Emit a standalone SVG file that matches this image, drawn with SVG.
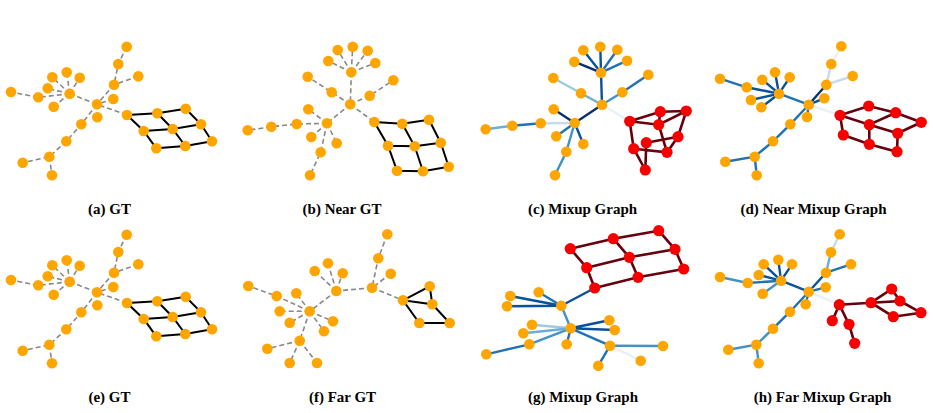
<svg xmlns="http://www.w3.org/2000/svg" width="933" height="413" viewBox="0 0 933 413">
<style>
.o{fill:#ffa500}
.r{fill:#f90000}
.d{stroke:#888;stroke-width:1.6;stroke-dasharray:5 3;fill:none}
.k{stroke:#000;stroke-width:2;fill:none}
.m{stroke:#67000d;stroke-width:2.6;fill:none}
.b{stroke-width:2.4;fill:none}
.b0{stroke:#08306b}.b1{stroke:#08519c}.b2{stroke:#2171b5}.b3{stroke:#4292c6}.b4{stroke:#6baed6}.b5{stroke:#9ecae1}.b6{stroke:#c6dbef}.b7{stroke:#e8f1fa}
text{font-family:"Liberation Serif","DejaVu Serif",serif;font-weight:bold;font-size:15px;fill:#000;text-anchor:middle}
</style>
<rect width="933" height="413" fill="#fff"/>

<g id="panel-a">
<g id="a-edges">
<path class="d" d="M126.7,46.7L118.3,64L114,84.7L97,104.3M138.3,76.3L114,84.7M113.3,99L97,104.3M97.3,117.3L97,104.3M69.7,93.7L97,104.3L127,115M97,104.3L81.3,124.3L66.3,141.3L49.3,156.7L22.7,162.7M49.3,156.7L52,175.3M69.7,93.7L66.7,72.3M69.7,93.7L52.3,77.3M69.7,93.7L79.7,77.7M69.7,93.7L47.7,88.3M69.7,93.7L53.7,106.7M69.7,93.7L38.3,97.3L11,92"/>
<path class="k" d="M127,115L157.3,113.3L185.7,108.7M143.7,131L172.7,129L201,124.3M156.3,148.3L185.3,146L212,141.3M127,115L143.7,131L156.3,148.3M157.3,113.3L172.7,129L185.3,146M185.7,108.7L201,124.3L212,141.3"/>
</g>
<g id="a-n1"><circle class="o" cx="126.7" cy="46.7" r="5.3"/></g>
<g id="a-n2"><circle class="o" cx="118.3" cy="64" r="5.3"/></g>
<g id="a-n3"><circle class="o" cx="138.3" cy="76.3" r="5.3"/></g>
<g id="a-n4"><circle class="o" cx="114" cy="84.7" r="5.3"/></g>
<g id="a-n5"><circle class="o" cx="113.3" cy="99" r="5.3"/></g>
<g id="a-n6"><circle class="o" cx="97" cy="104.3" r="5.3"/></g>
<g id="a-n7"><circle class="o" cx="97.3" cy="117.3" r="5.3"/></g>
<g id="a-n8"><circle class="o" cx="69.7" cy="93.7" r="5.3"/></g>
<g id="a-n9"><circle class="o" cx="66.7" cy="72.3" r="5.3"/></g>
<g id="a-n10"><circle class="o" cx="52.3" cy="77.3" r="5.3"/></g>
<g id="a-n11"><circle class="o" cx="79.7" cy="77.7" r="5.3"/></g>
<g id="a-n12"><circle class="o" cx="47.7" cy="88.3" r="5.3"/></g>
<g id="a-n13"><circle class="o" cx="53.7" cy="106.7" r="5.3"/></g>
<g id="a-n14"><circle class="o" cx="38.3" cy="97.3" r="5.3"/></g>
<g id="a-n15"><circle class="o" cx="11" cy="92" r="5.3"/></g>
<g id="a-n16"><circle class="o" cx="81.3" cy="124.3" r="5.3"/></g>
<g id="a-n17"><circle class="o" cx="66.3" cy="141.3" r="5.3"/></g>
<g id="a-n18"><circle class="o" cx="49.3" cy="156.7" r="5.3"/></g>
<g id="a-n19"><circle class="o" cx="22.7" cy="162.7" r="5.3"/></g>
<g id="a-n20"><circle class="o" cx="52" cy="175.3" r="5.3"/></g>
<g id="a-g1"><circle class="o" cx="127" cy="115" r="5.3"/></g>
<g id="a-g2"><circle class="o" cx="157.3" cy="113.3" r="5.3"/></g>
<g id="a-g3"><circle class="o" cx="185.7" cy="108.7" r="5.3"/></g>
<g id="a-g4"><circle class="o" cx="143.7" cy="131" r="5.3"/></g>
<g id="a-g5"><circle class="o" cx="172.7" cy="129" r="5.3"/></g>
<g id="a-g6"><circle class="o" cx="201" cy="124.3" r="5.3"/></g>
<g id="a-g7"><circle class="o" cx="156.3" cy="148.3" r="5.3"/></g>
<g id="a-g8"><circle class="o" cx="185.3" cy="146" r="5.3"/></g>
<g id="a-g9"><circle class="o" cx="212" cy="141.3" r="5.3"/></g>
</g>

<g id="panel-e" transform="translate(0,188)">
<g id="e-edges">
<path class="d" d="M126.7,46.7L118.3,64L114,84.7L97,104.3M138.3,76.3L114,84.7M113.3,99L97,104.3M97.3,117.3L97,104.3M69.7,93.7L97,104.3L127,115M97,104.3L81.3,124.3L66.3,141.3L49.3,156.7L22.7,162.7M49.3,156.7L52,175.3M69.7,93.7L66.7,72.3M69.7,93.7L52.3,77.3M69.7,93.7L79.7,77.7M69.7,93.7L47.7,88.3M69.7,93.7L53.7,106.7M69.7,93.7L38.3,97.3L11,92"/>
<path class="k" d="M127,115L157.3,113.3L185.7,108.7M143.7,131L172.7,129L201,124.3M156.3,148.3L185.3,146L212,141.3M127,115L143.7,131L156.3,148.3M157.3,113.3L172.7,129L185.3,146M185.7,108.7L201,124.3L212,141.3"/>
</g>
<g id="e-n1"><circle class="o" cx="126.7" cy="46.7" r="5.3"/></g>
<g id="e-n2"><circle class="o" cx="118.3" cy="64" r="5.3"/></g>
<g id="e-n3"><circle class="o" cx="138.3" cy="76.3" r="5.3"/></g>
<g id="e-n4"><circle class="o" cx="114" cy="84.7" r="5.3"/></g>
<g id="e-n5"><circle class="o" cx="113.3" cy="99" r="5.3"/></g>
<g id="e-n6"><circle class="o" cx="97" cy="104.3" r="5.3"/></g>
<g id="e-n7"><circle class="o" cx="97.3" cy="117.3" r="5.3"/></g>
<g id="e-n8"><circle class="o" cx="69.7" cy="93.7" r="5.3"/></g>
<g id="e-n9"><circle class="o" cx="66.7" cy="72.3" r="5.3"/></g>
<g id="e-n10"><circle class="o" cx="52.3" cy="77.3" r="5.3"/></g>
<g id="e-n11"><circle class="o" cx="79.7" cy="77.7" r="5.3"/></g>
<g id="e-n12"><circle class="o" cx="47.7" cy="88.3" r="5.3"/></g>
<g id="e-n13"><circle class="o" cx="53.7" cy="106.7" r="5.3"/></g>
<g id="e-n14"><circle class="o" cx="38.3" cy="97.3" r="5.3"/></g>
<g id="e-n15"><circle class="o" cx="11" cy="92" r="5.3"/></g>
<g id="e-n16"><circle class="o" cx="81.3" cy="124.3" r="5.3"/></g>
<g id="e-n17"><circle class="o" cx="66.3" cy="141.3" r="5.3"/></g>
<g id="e-n18"><circle class="o" cx="49.3" cy="156.7" r="5.3"/></g>
<g id="e-n19"><circle class="o" cx="22.7" cy="162.7" r="5.3"/></g>
<g id="e-n20"><circle class="o" cx="52" cy="175.3" r="5.3"/></g>
<g id="e-g1"><circle class="o" cx="127" cy="115" r="5.3"/></g>
<g id="e-g2"><circle class="o" cx="157.3" cy="113.3" r="5.3"/></g>
<g id="e-g3"><circle class="o" cx="185.7" cy="108.7" r="5.3"/></g>
<g id="e-g4"><circle class="o" cx="143.7" cy="131" r="5.3"/></g>
<g id="e-g5"><circle class="o" cx="172.7" cy="129" r="5.3"/></g>
<g id="e-g6"><circle class="o" cx="201" cy="124.3" r="5.3"/></g>
<g id="e-g7"><circle class="o" cx="156.3" cy="148.3" r="5.3"/></g>
<g id="e-g8"><circle class="o" cx="185.3" cy="146" r="5.3"/></g>
<g id="e-g9"><circle class="o" cx="212" cy="141.3" r="5.3"/></g>
</g>

<g id="panel-b">
<g id="b-edges">
<path class="d" d="M351.3,72.3L352.7,46.7M351.3,72.3L337.7,50M351.3,72.3L367.7,50.7M351.3,72.3L328.3,61M351.3,72.3L375.3,63M351.3,72.3L350.3,104.3L331.7,92.3L307.7,76.7M350.3,104.3L369.7,95.7L393.3,80.3M350.3,104.3L327,123.3M350.3,104.3L374.3,122M327,123.3L308.3,109.3M327,123.3L311.3,137M327,123.3L336.7,143.3M327,123.3L320.7,152.3L310,175.3M327,123.3L296.7,124L271.3,126.7L247.7,130.3"/>
<path class="k" d="M374.3,122L402.3,123.7L429,119.7M388,145.7L414.7,146.3L440.7,142.7M397,170.7L423,171.3L448.7,166.7M374.3,122L388,145.7L397,170.7M402.3,123.7L414.7,146.3L423,171.3M429,119.7L440.7,142.7L448.7,166.7"/>
</g>
<g id="b-n1"><circle class="o" cx="351.3" cy="72.3" r="5.3"/></g>
<g id="b-n2"><circle class="o" cx="352.7" cy="46.7" r="5.3"/></g>
<g id="b-n3"><circle class="o" cx="337.7" cy="50" r="5.3"/></g>
<g id="b-n4"><circle class="o" cx="367.7" cy="50.7" r="5.3"/></g>
<g id="b-n5"><circle class="o" cx="328.3" cy="61" r="5.3"/></g>
<g id="b-n6"><circle class="o" cx="375.3" cy="63" r="5.3"/></g>
<g id="b-n7"><circle class="o" cx="350.3" cy="104.3" r="5.3"/></g>
<g id="b-n8"><circle class="o" cx="331.7" cy="92.3" r="5.3"/></g>
<g id="b-n9"><circle class="o" cx="307.7" cy="76.7" r="5.3"/></g>
<g id="b-n10"><circle class="o" cx="369.7" cy="95.7" r="5.3"/></g>
<g id="b-n11"><circle class="o" cx="393.3" cy="80.3" r="5.3"/></g>
<g id="b-n12"><circle class="o" cx="327" cy="123.3" r="5.3"/></g>
<g id="b-n13"><circle class="o" cx="308.3" cy="109.3" r="5.3"/></g>
<g id="b-n14"><circle class="o" cx="311.3" cy="137" r="5.3"/></g>
<g id="b-n15"><circle class="o" cx="336.7" cy="143.3" r="5.3"/></g>
<g id="b-n16"><circle class="o" cx="320.7" cy="152.3" r="5.3"/></g>
<g id="b-n17"><circle class="o" cx="310" cy="175.3" r="5.3"/></g>
<g id="b-n18"><circle class="o" cx="296.7" cy="124" r="5.3"/></g>
<g id="b-n19"><circle class="o" cx="271.3" cy="126.7" r="5.3"/></g>
<g id="b-n20"><circle class="o" cx="247.7" cy="130.3" r="5.3"/></g>
<g id="b-g1"><circle class="o" cx="374.3" cy="122" r="5.3"/></g>
<g id="b-g2"><circle class="o" cx="402.3" cy="123.7" r="5.3"/></g>
<g id="b-g3"><circle class="o" cx="429" cy="119.7" r="5.3"/></g>
<g id="b-g4"><circle class="o" cx="388" cy="145.7" r="5.3"/></g>
<g id="b-g5"><circle class="o" cx="414.7" cy="146.3" r="5.3"/></g>
<g id="b-g6"><circle class="o" cx="440.7" cy="142.7" r="5.3"/></g>
<g id="b-g7"><circle class="o" cx="397" cy="170.7" r="5.3"/></g>
<g id="b-g8"><circle class="o" cx="423" cy="171.3" r="5.3"/></g>
<g id="b-g9"><circle class="o" cx="448.7" cy="166.7" r="5.3"/></g>
</g>

<g id="panel-c">
<g id="c-edges">
<path class="b b7" d="M602,104.7L629.7,121.3"/>
<path class="b b1" d="M601,72.7L600.3,46.7M601,72.7L583.3,50.3M601,72.7L602,104.7"/>
<path class="b b0" d="M601,72.7L574.3,61.7M602,104.7L574.7,123M574.7,123L553.7,109.3"/>
<path class="b b2" d="M601,72.7L617.3,49.7M601,72.7L627,60.7M622.3,92.3L648.3,74.7M574.7,123L556.3,136.3M540.7,123.3L512.3,125.7"/>
<path class="b b4" d="M602,104.7L581,93.3M512.3,125.7L485.7,129.3"/>
<path class="b b5" d="M581,93.3L553.3,78"/>
<path class="b b3" d="M602,104.7L622.3,92.3M574.7,123L566.3,151.7L555,175.3"/>
<path class="b b1" d="M574.7,123L583.3,144"/>
<path class="b b6" d="M574.7,123L540.7,123.3"/>
<path class="m" d="M629.7,121.3L660.3,111.7L686.3,111M629.7,121.3L658.7,124.7L686.3,111M686.3,111L678,136.7M658.7,124.7L667,152.3M646.3,142.7L678,136.7M629.7,121.3L633.7,148.7L645.3,170M646.3,142.7L645.3,170M633.7,148.7L667,152.3L678,136.7M660.3,111.7L658.7,124.7"/>
</g>
<g id="c-n1"><circle class="o" cx="601" cy="72.7" r="5.3"/></g>
<g id="c-n2"><circle class="o" cx="600.3" cy="46.7" r="5.3"/></g>
<g id="c-n3"><circle class="o" cx="583.3" cy="50.3" r="5.3"/></g>
<g id="c-n4"><circle class="o" cx="617.3" cy="49.7" r="5.3"/></g>
<g id="c-n5"><circle class="o" cx="574.3" cy="61.7" r="5.3"/></g>
<g id="c-n6"><circle class="o" cx="627" cy="60.7" r="5.3"/></g>
<g id="c-n7"><circle class="o" cx="602" cy="104.7" r="5.3"/></g>
<g id="c-n8"><circle class="o" cx="581" cy="93.3" r="5.3"/></g>
<g id="c-n9"><circle class="o" cx="553.3" cy="78" r="5.3"/></g>
<g id="c-n10"><circle class="o" cx="622.3" cy="92.3" r="5.3"/></g>
<g id="c-n11"><circle class="o" cx="648.3" cy="74.7" r="5.3"/></g>
<g id="c-n12"><circle class="o" cx="574.7" cy="123" r="5.3"/></g>
<g id="c-n13"><circle class="o" cx="553.7" cy="109.3" r="5.3"/></g>
<g id="c-n14"><circle class="o" cx="556.3" cy="136.3" r="5.3"/></g>
<g id="c-n15"><circle class="o" cx="583.3" cy="144" r="5.3"/></g>
<g id="c-n16"><circle class="o" cx="566.3" cy="151.7" r="5.3"/></g>
<g id="c-n17"><circle class="o" cx="555" cy="175.3" r="5.3"/></g>
<g id="c-n18"><circle class="o" cx="540.7" cy="123.3" r="5.3"/></g>
<g id="c-n19"><circle class="o" cx="512.3" cy="125.7" r="5.3"/></g>
<g id="c-n20"><circle class="o" cx="485.7" cy="129.3" r="5.3"/></g>
<g id="c-r1"><circle class="r" cx="629.7" cy="121.3" r="5.6"/></g>
<g id="c-r2"><circle class="r" cx="660.3" cy="111.7" r="5.6"/></g>
<g id="c-r3"><circle class="r" cx="686.3" cy="111" r="5.6"/></g>
<g id="c-r4"><circle class="r" cx="658.7" cy="124.7" r="5.6"/></g>
<g id="c-r5"><circle class="r" cx="678" cy="136.7" r="5.6"/></g>
<g id="c-r6"><circle class="r" cx="646.3" cy="142.7" r="5.6"/></g>
<g id="c-r7"><circle class="r" cx="633.7" cy="148.7" r="5.6"/></g>
<g id="c-r8"><circle class="r" cx="667" cy="152.3" r="5.6"/></g>
<g id="c-r9"><circle class="r" cx="645.3" cy="170" r="5.6"/></g>
</g>

<g id="panel-d">
<g id="d-edges">
<path class="b b7" d="M808.7,104.7L840,115.3M841.3,46.3L831.3,64"/>
<path class="b b6" d="M831.3,64L826.3,84.7M852.7,76L826.3,84.7"/>
<path class="b b0" d="M826.3,84.7L808.7,104.7"/>
<path class="b b1" d="M824.3,98.3L808.7,104.7M779,93.7L775,72.3M779,93.7L762.3,79.7M779,93.7L789.7,77.3M779,93.7L751,100M779,93.7L761.3,107.3M779,93.7L746.7,87.3"/>
<path class="b b2" d="M808.7,104.7L807,117M808.7,104.7L790.3,124.3L773,141.3L754.7,156.7L725.3,161.7M754.7,156.7L756.7,175.3M779,93.7L808.7,104.7M746.7,87.3L720,78.7"/>
<path class="m" d="M840,115.3L868.7,106L895.7,112.7L921.3,122.3M840,115.3L869.3,124.7L895.7,112.7M869.3,124.7L897.7,133.3L921.3,122.3M840,115.3L843.3,135L869.3,144.3L897,151.7L897.7,133.3M869.3,124.7L869.3,144.3"/>
</g>
<g id="d-n1"><circle class="o" cx="841.3" cy="46.3" r="5.3"/></g>
<g id="d-n2"><circle class="o" cx="831.3" cy="64" r="5.3"/></g>
<g id="d-n3"><circle class="o" cx="852.7" cy="76" r="5.3"/></g>
<g id="d-n4"><circle class="o" cx="826.3" cy="84.7" r="5.3"/></g>
<g id="d-n5"><circle class="o" cx="824.3" cy="98.3" r="5.3"/></g>
<g id="d-n6"><circle class="o" cx="808.7" cy="104.7" r="5.3"/></g>
<g id="d-n7"><circle class="o" cx="807" cy="117" r="5.3"/></g>
<g id="d-n8"><circle class="o" cx="779" cy="93.7" r="5.3"/></g>
<g id="d-n9"><circle class="o" cx="775" cy="72.3" r="5.3"/></g>
<g id="d-n10"><circle class="o" cx="762.3" cy="79.7" r="5.3"/></g>
<g id="d-n11"><circle class="o" cx="789.7" cy="77.3" r="5.3"/></g>
<g id="d-n12"><circle class="o" cx="751" cy="100" r="5.3"/></g>
<g id="d-n13"><circle class="o" cx="761.3" cy="107.3" r="5.3"/></g>
<g id="d-n14"><circle class="o" cx="746.7" cy="87.3" r="5.3"/></g>
<g id="d-n15"><circle class="o" cx="720" cy="78.7" r="5.3"/></g>
<g id="d-n16"><circle class="o" cx="790.3" cy="124.3" r="5.3"/></g>
<g id="d-n17"><circle class="o" cx="773" cy="141.3" r="5.3"/></g>
<g id="d-n18"><circle class="o" cx="754.7" cy="156.7" r="5.3"/></g>
<g id="d-n19"><circle class="o" cx="725.3" cy="161.7" r="5.3"/></g>
<g id="d-n20"><circle class="o" cx="756.7" cy="175.3" r="5.3"/></g>
<g id="d-r1"><circle class="r" cx="840" cy="115.3" r="5.6"/></g>
<g id="d-r2"><circle class="r" cx="868.7" cy="106" r="5.6"/></g>
<g id="d-r3"><circle class="r" cx="895.7" cy="112.7" r="5.6"/></g>
<g id="d-r4"><circle class="r" cx="921.3" cy="122.3" r="5.6"/></g>
<g id="d-r5"><circle class="r" cx="869.3" cy="124.7" r="5.6"/></g>
<g id="d-r6"><circle class="r" cx="897.7" cy="133.3" r="5.6"/></g>
<g id="d-r7"><circle class="r" cx="843.3" cy="135" r="5.6"/></g>
<g id="d-r8"><circle class="r" cx="869.3" cy="144.3" r="5.6"/></g>
<g id="d-r9"><circle class="r" cx="897" cy="151.7" r="5.6"/></g>
</g>

<g id="panel-f">
<g id="f-edges">
<path class="d" d="M387.3,234.3L378.3,258.3L372,287.7M390.7,273.7L372,287.7M372,287.7L403,300.3M372,287.7L336.3,291M336.3,291L328,263.3M336.3,291L314.7,271M336.3,291L342.7,273.3M336.3,291L309.7,311.3M309.7,311.3L276.7,296L248.3,286M309.7,311.3L296.3,293.3M309.7,311.3L279.7,311.3M309.7,311.3L289.7,322.7M309.7,311.3L333,321.3M309.7,311.3L324,331.3M309.7,311.3L299.7,340.7M299.7,340.7L267.3,348.7M299.7,340.7L289.7,363M299.7,340.7L317,363"/>
<path class="k" d="M403,300.3L429.7,286.3L432.3,304.3L403,300.3L419.3,323L449.7,323L432.3,304.3"/>
</g>
<g id="f-n1"><circle class="o" cx="387.3" cy="234.3" r="5.3"/></g>
<g id="f-n2"><circle class="o" cx="378.3" cy="258.3" r="5.3"/></g>
<g id="f-n3"><circle class="o" cx="390.7" cy="273.7" r="5.3"/></g>
<g id="f-n4"><circle class="o" cx="372" cy="287.7" r="5.3"/></g>
<g id="f-n5"><circle class="o" cx="336.3" cy="291" r="5.3"/></g>
<g id="f-n6"><circle class="o" cx="328" cy="263.3" r="5.3"/></g>
<g id="f-n7"><circle class="o" cx="314.7" cy="271" r="5.3"/></g>
<g id="f-n8"><circle class="o" cx="342.7" cy="273.3" r="5.3"/></g>
<g id="f-n9"><circle class="o" cx="309.7" cy="311.3" r="5.3"/></g>
<g id="f-n10"><circle class="o" cx="276.7" cy="296" r="5.3"/></g>
<g id="f-n11"><circle class="o" cx="248.3" cy="286" r="5.3"/></g>
<g id="f-n12"><circle class="o" cx="296.3" cy="293.3" r="5.3"/></g>
<g id="f-n13"><circle class="o" cx="279.7" cy="311.3" r="5.3"/></g>
<g id="f-n14"><circle class="o" cx="289.7" cy="322.7" r="5.3"/></g>
<g id="f-n15"><circle class="o" cx="333" cy="321.3" r="5.3"/></g>
<g id="f-n16"><circle class="o" cx="324" cy="331.3" r="5.3"/></g>
<g id="f-n17"><circle class="o" cx="299.7" cy="340.7" r="5.3"/></g>
<g id="f-n18"><circle class="o" cx="267.3" cy="348.7" r="5.3"/></g>
<g id="f-n19"><circle class="o" cx="289.7" cy="363" r="5.3"/></g>
<g id="f-n20"><circle class="o" cx="317" cy="363" r="5.3"/></g>
<g id="f-q1"><circle class="o" cx="403" cy="300.3" r="5.3"/></g>
<g id="f-q2"><circle class="o" cx="429.7" cy="286.3" r="5.3"/></g>
<g id="f-q3"><circle class="o" cx="432.3" cy="304.3" r="5.3"/></g>
<g id="f-q4"><circle class="o" cx="419.3" cy="323" r="5.3"/></g>
<g id="f-q5"><circle class="o" cx="449.7" cy="323" r="5.3"/></g>
</g>

<g id="panel-g">
<g id="g-edges">
<path class="m" d="M570.3,248.7L613.3,238.7L658.7,230.7M586.7,267.7L629.3,257.3L675,249.3M594.7,288L638,277.3L683.7,269M570.3,248.7L586.7,267.7L594.7,288M613.3,238.7L629.3,257.3L638,277.3M658.7,230.7L675,249.3L683.7,269"/>
<path class="b b1" d="M561.3,305.7L594.7,288M561.3,305.7L510.3,296M561.3,305.7L507,306.3M570.7,328.3L609.3,320.3M570.7,328.3L614.7,330"/>
<path class="b b2" d="M561.3,305.7L538.7,292.3M529.3,344.3L486.3,354.3M570.7,328.3L566.7,344.3M570.7,328.3L610,345.7M610,345.7L598.3,365.7"/>
<path class="b b3" d="M561.3,305.7L570.7,328.3M570.7,328.3L529.3,344.3M610,345.7L663,346"/>
<path class="b b5" d="M570.7,328.3L532,324.7"/>
<path class="b b4" d="M570.7,328.3L523.3,333.3"/>
<path class="b b7" d="M610,345.7L640.7,360.7"/>
</g>
<g id="g-r1"><circle class="r" cx="570.3" cy="248.7" r="5.6"/></g>
<g id="g-r2"><circle class="r" cx="613.3" cy="238.7" r="5.6"/></g>
<g id="g-r3"><circle class="r" cx="658.7" cy="230.7" r="5.6"/></g>
<g id="g-r4"><circle class="r" cx="586.7" cy="267.7" r="5.6"/></g>
<g id="g-r5"><circle class="r" cx="629.3" cy="257.3" r="5.6"/></g>
<g id="g-r6"><circle class="r" cx="675" cy="249.3" r="5.6"/></g>
<g id="g-r7"><circle class="r" cx="594.7" cy="288" r="5.6"/></g>
<g id="g-r8"><circle class="r" cx="638" cy="277.3" r="5.6"/></g>
<g id="g-r9"><circle class="r" cx="683.7" cy="269" r="5.6"/></g>
<g id="g-n1"><circle class="o" cx="561.3" cy="305.7" r="5.3"/></g>
<g id="g-n2"><circle class="o" cx="538.7" cy="292.3" r="5.3"/></g>
<g id="g-n3"><circle class="o" cx="510.3" cy="296" r="5.3"/></g>
<g id="g-n4"><circle class="o" cx="507" cy="306.3" r="5.3"/></g>
<g id="g-n5"><circle class="o" cx="570.7" cy="328.3" r="5.3"/></g>
<g id="g-n6"><circle class="o" cx="609.3" cy="320.3" r="5.3"/></g>
<g id="g-n7"><circle class="o" cx="614.7" cy="330" r="5.3"/></g>
<g id="g-n8"><circle class="o" cx="532" cy="324.7" r="5.3"/></g>
<g id="g-n9"><circle class="o" cx="523.3" cy="333.3" r="5.3"/></g>
<g id="g-n10"><circle class="o" cx="529.3" cy="344.3" r="5.3"/></g>
<g id="g-n11"><circle class="o" cx="486.3" cy="354.3" r="5.3"/></g>
<g id="g-n12"><circle class="o" cx="566.7" cy="344.3" r="5.3"/></g>
<g id="g-n13"><circle class="o" cx="610" cy="345.7" r="5.3"/></g>
<g id="g-n14"><circle class="o" cx="663" cy="346" r="5.3"/></g>
<g id="g-n15"><circle class="o" cx="640.7" cy="360.7" r="5.3"/></g>
<g id="g-n16"><circle class="o" cx="598.3" cy="365.7" r="5.3"/></g>
</g>

<g id="panel-h">
<g id="h-edges">
<path class="b b7" d="M808.7,291.7L839.3,304.7"/>
<path class="b b6" d="M839.7,234.3L831,252.3"/>
<path class="b b4" d="M831,252.3L826,272.7"/>
<path class="b b2" d="M851,264.3L826,272.7M825.7,287.3L808.7,291.7M808.7,291.7L805.7,304.3M808.7,291.7L790,311.7L773,328.7M781,280.7L747.7,283"/>
<path class="b b3" d="M773,328.7L756.3,344.7L728.3,349.7M756.3,344.7L758.7,363.3M747.7,283L720,277M781,280.7L762.7,293.7"/>
<path class="b b1" d="M826,272.7L808.7,291.7M781,280.7L808.7,291.7M781,280.7L778.3,259.7M781,280.7L763.7,264.3M781,280.7L792,264.3M781,280.7L758.7,275"/>
<path class="m" d="M839.3,304.7L871,302.7L891.7,289L900,301L871,302.7L893.3,316.7L921,312.7L900,301M839.3,304.7L832.3,320.7M839.3,304.7L849,324.3L854.7,343.3"/>
</g>
<g id="h-n1"><circle class="o" cx="839.7" cy="234.3" r="5.3"/></g>
<g id="h-n2"><circle class="o" cx="831" cy="252.3" r="5.3"/></g>
<g id="h-n3"><circle class="o" cx="851" cy="264.3" r="5.3"/></g>
<g id="h-n4"><circle class="o" cx="826" cy="272.7" r="5.3"/></g>
<g id="h-n5"><circle class="o" cx="825.7" cy="287.3" r="5.3"/></g>
<g id="h-n6"><circle class="o" cx="808.7" cy="291.7" r="5.3"/></g>
<g id="h-n7"><circle class="o" cx="805.7" cy="304.3" r="5.3"/></g>
<g id="h-n8"><circle class="o" cx="781" cy="280.7" r="5.3"/></g>
<g id="h-n9"><circle class="o" cx="778.3" cy="259.7" r="5.3"/></g>
<g id="h-n10"><circle class="o" cx="763.7" cy="264.3" r="5.3"/></g>
<g id="h-n11"><circle class="o" cx="792" cy="264.3" r="5.3"/></g>
<g id="h-n12"><circle class="o" cx="758.7" cy="275" r="5.3"/></g>
<g id="h-n13"><circle class="o" cx="762.7" cy="293.7" r="5.3"/></g>
<g id="h-n14"><circle class="o" cx="747.7" cy="283" r="5.3"/></g>
<g id="h-n15"><circle class="o" cx="720" cy="277" r="5.3"/></g>
<g id="h-n16"><circle class="o" cx="790" cy="311.7" r="5.3"/></g>
<g id="h-n17"><circle class="o" cx="773" cy="328.7" r="5.3"/></g>
<g id="h-n18"><circle class="o" cx="756.3" cy="344.7" r="5.3"/></g>
<g id="h-n19"><circle class="o" cx="728.3" cy="349.7" r="5.3"/></g>
<g id="h-n20"><circle class="o" cx="758.7" cy="363.3" r="5.3"/></g>
<g id="h-r1"><circle class="r" cx="839.3" cy="304.7" r="5.6"/></g>
<g id="h-r2"><circle class="r" cx="871" cy="302.7" r="5.6"/></g>
<g id="h-r3"><circle class="r" cx="891.7" cy="289" r="5.6"/></g>
<g id="h-r4"><circle class="r" cx="900" cy="301" r="5.6"/></g>
<g id="h-r5"><circle class="r" cx="893.3" cy="316.7" r="5.6"/></g>
<g id="h-r6"><circle class="r" cx="921" cy="312.7" r="5.6"/></g>
<g id="h-r7"><circle class="r" cx="832.3" cy="320.7" r="5.6"/></g>
<g id="h-r8"><circle class="r" cx="849" cy="324.3" r="5.6"/></g>
<g id="h-r9"><circle class="r" cx="854.7" cy="343.3" r="5.6"/></g>
</g>

<g id="captions">
<text x="109.5" y="214">(a) GT</text>
<text x="342" y="214">(b) Near GT</text>
<text x="582.5" y="214">(c) Mixup Graph</text>
<text x="813.5" y="214">(d) Near Mixup Graph</text>
<text x="109.5" y="402">(e) GT</text>
<text x="342.5" y="402">(f) Far GT</text>
<text x="583" y="402">(g) Mixup Graph</text>
<text x="822.5" y="402">(h) Far Mixup Graph</text>
</g>
</svg>
